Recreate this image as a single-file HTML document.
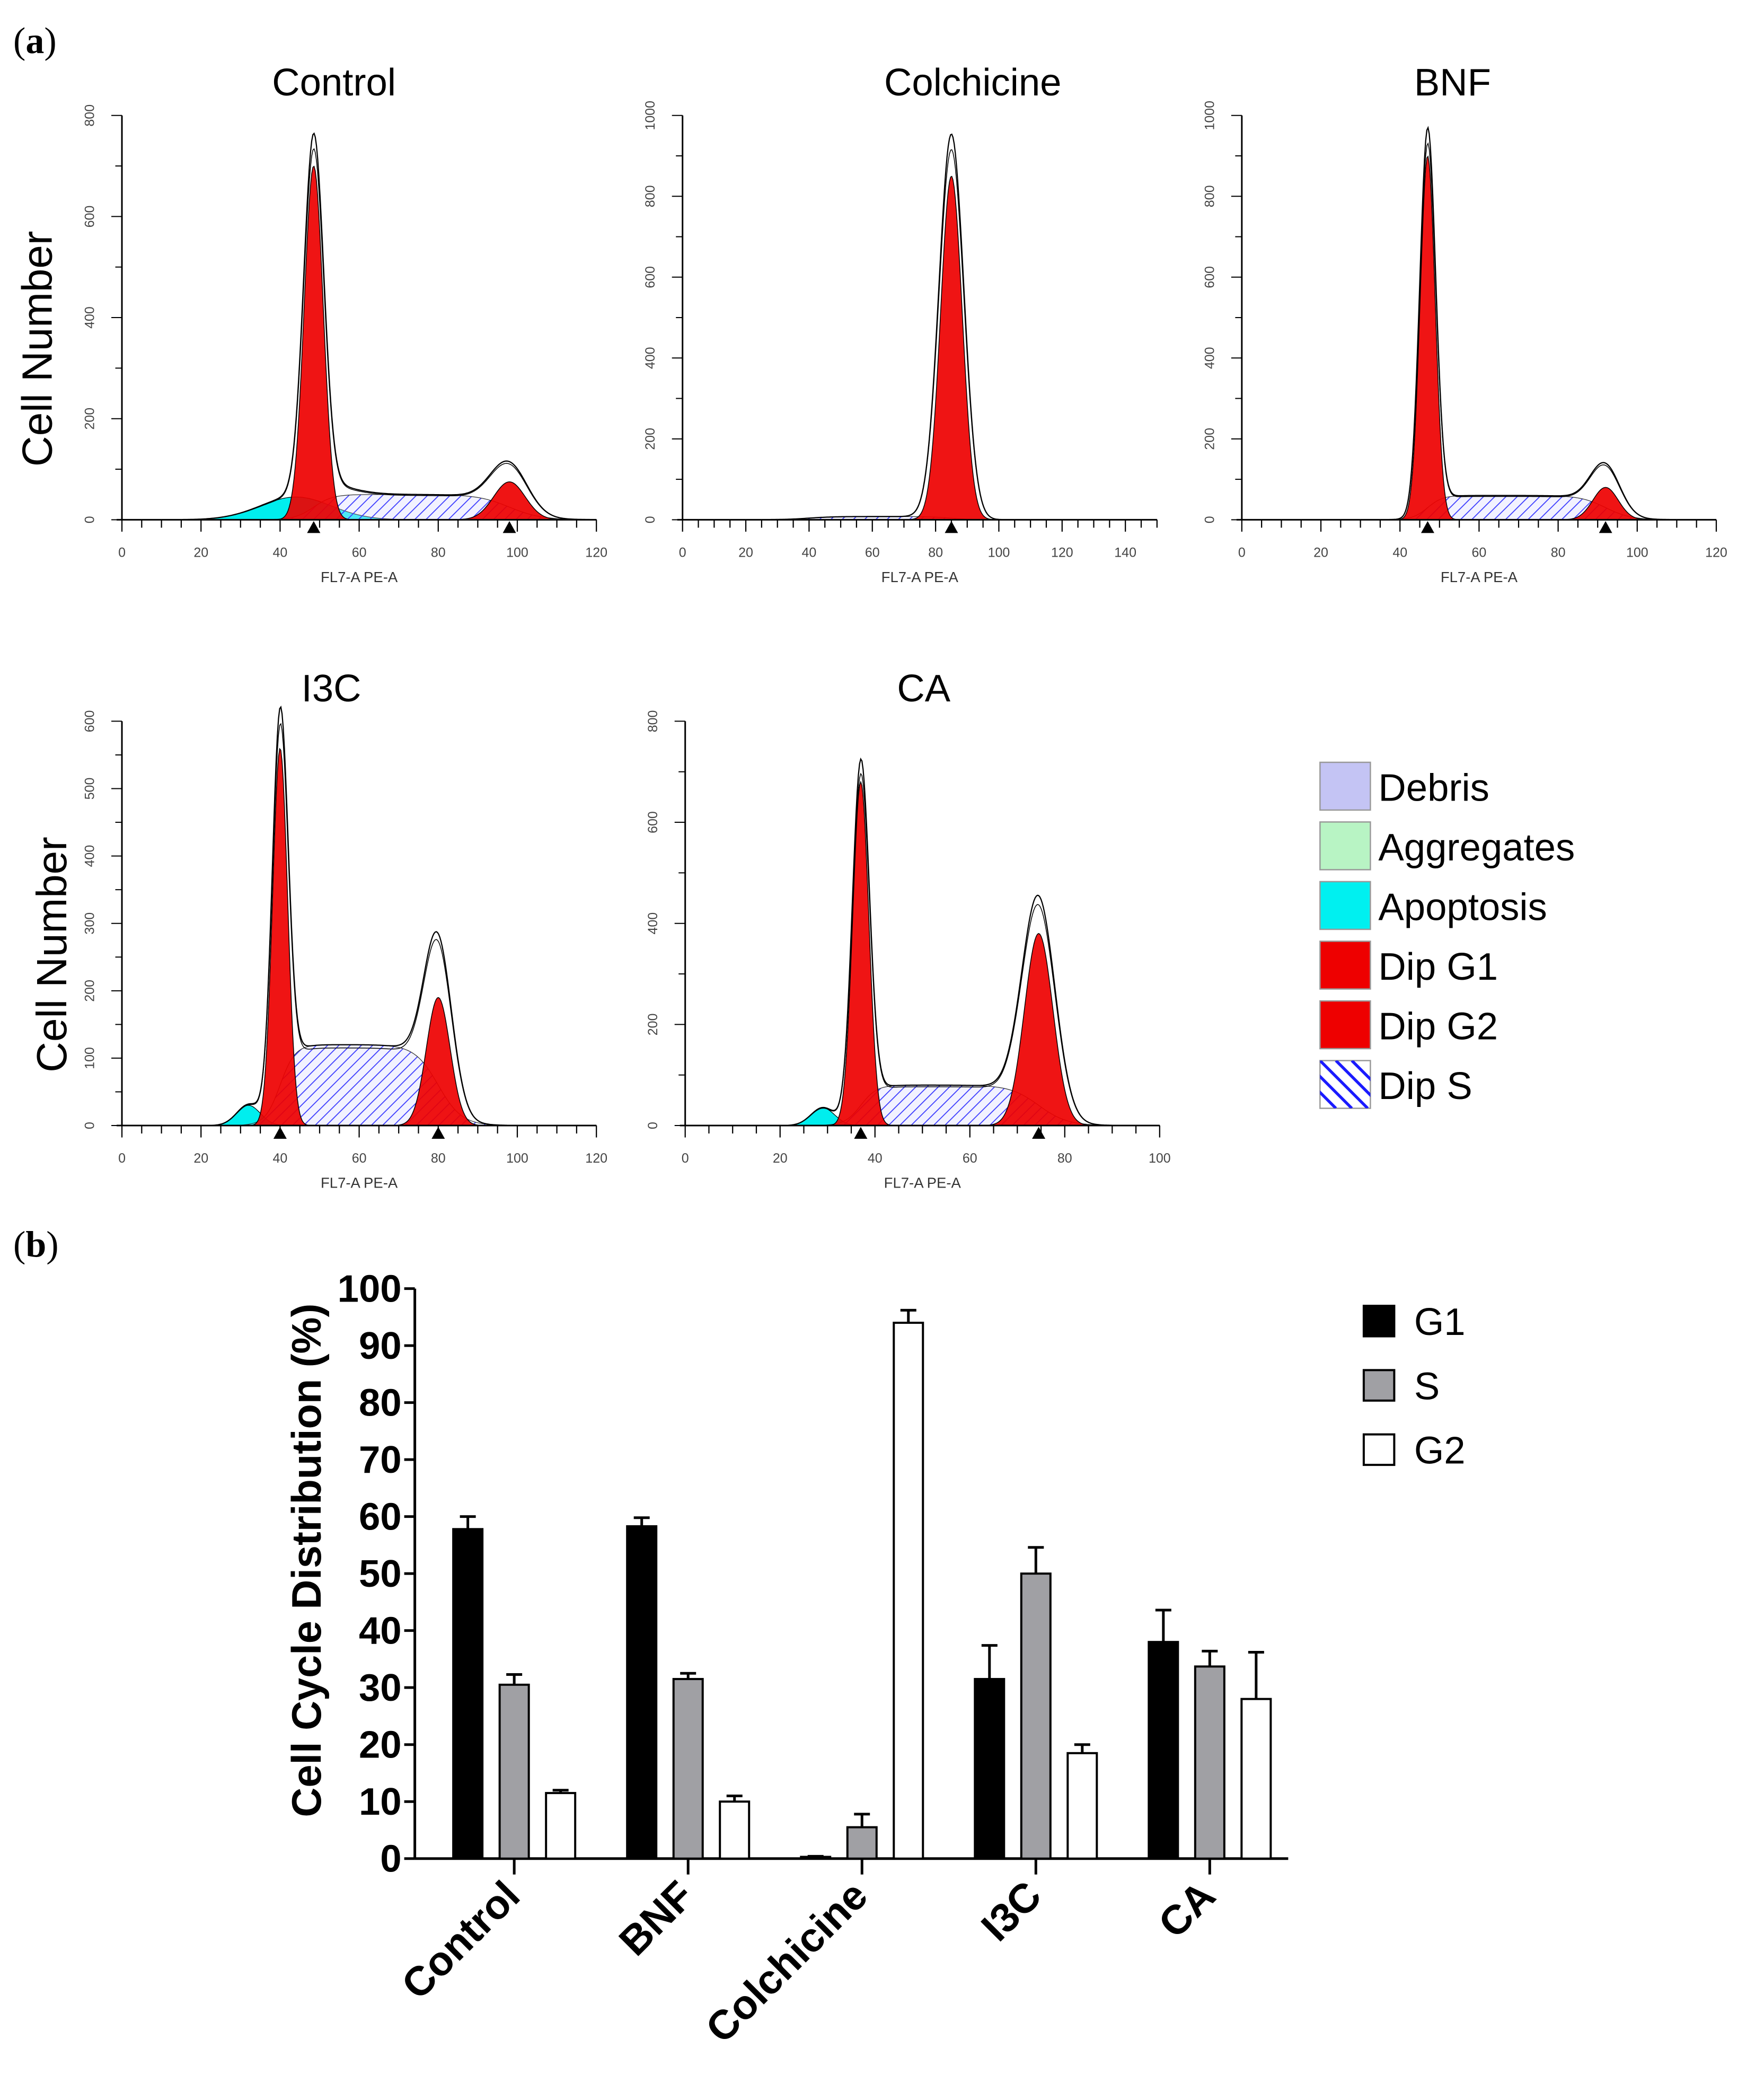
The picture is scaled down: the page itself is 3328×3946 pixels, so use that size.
<!DOCTYPE html>
<html><head><meta charset="utf-8"><style>
html,body{margin:0;padding:0;background:#fff}
svg{display:block}
text{font-family:"Liberation Sans",sans-serif}
</style></head><body>
<svg id="fig" xmlns="http://www.w3.org/2000/svg" width="3328" height="3946" viewBox="0 0 1331 1578">
<defs>
<pattern id="hatch" patternUnits="userSpaceOnUse" width="6" height="6" patternTransform="rotate(45)">
<rect width="6" height="6" fill="#d8d8ff" fill-opacity="0.35"/><line x1="0" y1="0" x2="0" y2="6" stroke="#3a3aff" stroke-width="1.4"/>
</pattern>
</defs>
<text x="10" y="40" font-size="28" style="font-family:'Liberation Serif',serif">(<tspan font-weight="bold">a</tspan>)</text>
<text x="10" y="948" font-size="28" style="font-family:'Liberation Serif',serif">(<tspan font-weight="bold">b</tspan>)</text>
<text transform="translate(39,263) rotate(-90)" text-anchor="middle" font-size="32">Cell Number</text>
<text transform="translate(50,720) rotate(-90)" text-anchor="middle" font-size="32">Cell Number</text>
<g id="hists"></g>
<g id="legendA"></g>
<g id="bars"></g>
</svg>
<script>
// ---- histogram panel data ----
const histTitles = ["Control","Colchicine","BNF","I3C","CA"];
const histXMax = [120,150,120,120,100];
const histYMax = [800,1000,1000,600,800];
const g1Mean = [48.5,40,47,40,37];
const g1Height = [700,0,900,560,680];
const g1Sd = [2.4,4,1.9,1.9,1.7];
const g2Mean = [98,85,92,80,74.5];
const g2Height = [75,850,80,190,380];
const g2Sd = [4,3.4,3.2,3,3];
const sLevel = [50,8,60,120,80];
const apoMean = [44,0,0,32,29];
const apoHeight = [45,0,0,30,35];
const apoSd = [9,1,1,3,2.5];
const outlineG1Extra = [0,0,40,0,5];
const outlineG2Extra = [15,100,30,35,35];
// panel frames (layout)
const frames = [
 {x0:92,x1:450,y0:392,y1:87,tx:252,ty:72},
 {x0:515,x1:873,y0:392,y1:87,tx:734,ty:72},
 {x0:937,x1:1295,y0:392,y1:87,tx:1096,ty:72},
 {x0:92,x1:450,y0:849,y1:544,tx:250,ty:529},
 {x0:517,x1:875,y0:849,y1:544,tx:697,ty:529}
];
const NS="http://www.w3.org/2000/svg";
function mk(tag,attrs,parent){const e=document.createElementNS(NS,tag);for(const k in attrs)e.setAttribute(k,attrs[k]);parent.appendChild(e);return e;}
function gauss(x,m,h,s){return h*Math.exp(-0.5*((x-m)/s)**2);}
function sig(x){return 1/(1+Math.exp(-x));}
const hists=document.getElementById('hists');
histTitles.forEach((t,i)=>{
  const f=frames[i];
  const g=mk('g',{},hists);
  
  
  const X=v=>f.x0+(f.x1-f.x0)*v/histXMax[i];
  const Y=v=>f.y0+(f.y1-f.y0)*v/histYMax[i];
  const xm=histXMax[i], N=400;
  const xs=[];for(let k=0;k<=N;k++)xs.push(xm*k/N);
  const sFn=x=>sLevel[i]*sig((x-g1Mean[i])/g1Sd[i])*sig((g2Mean[i]-x)/g2Sd[i]);
  const area=(fn)=>{let d='M'+X(0)+','+Y(0);xs.forEach(x=>{d+=' L'+X(x).toFixed(2)+','+Y(fn(x)).toFixed(2);});return d+' L'+X(xm)+','+Y(0)+'Z';};
  const line=(fn)=>{let d='';xs.forEach((x,k)=>{d+=(k?' L':'M')+X(x).toFixed(2)+','+Y(fn(x)).toFixed(2);});return d;};
  if(apoHeight[i]>0){
    const a=mk('path',{d:area(x=>gauss(x,apoMean[i],apoHeight[i],apoSd[i])),fill:'#00eeee',stroke:'#000','stroke-width':0.5},g);
    
    
  }
  const s=mk('path',{d:area(sFn),fill:'url(#hatch)',stroke:'#333','stroke-width':0.5},g);
  
  
  if(g1Height[i]>0){
    const p1=mk('path',{d:area(x=>gauss(x,g1Mean[i],g1Height[i],g1Sd[i])),fill:'#ee0000','fill-opacity':0.92,stroke:'#000','stroke-width':0.6},g);
    
    
  }
  const p2=mk('path',{d:area(x=>gauss(x,g2Mean[i],g2Height[i],g2Sd[i])),fill:'#ee0000','fill-opacity':0.92,stroke:'#000','stroke-width':0.6},g);
  
  
  const tot=x=>gauss(x,apoMean[i],apoHeight[i],apoSd[i])+sFn(x)+gauss(x,g1Mean[i],g1Height[i]+outlineG1Extra[i],g1Sd[i]*1.05)+gauss(x,g2Mean[i],g2Height[i]+outlineG2Extra[i],g2Sd[i]*1.15);
  const o=mk('path',{d:line(tot),fill:'none',stroke:'#000','stroke-width':0.9},g);
  
  
  const o2=mk('path',{d:line(x=>tot(x)*0.96),fill:'none',stroke:'#000','stroke-width':0.6},g);
  
  
  mk('line',{x1:f.x0-4,y1:f.y0,x2:f.x1,y2:f.y0,stroke:'#000','stroke-width':1.2},g);
  mk('line',{x1:f.x0,y1:f.y0,x2:f.x0,y2:f.y1,stroke:'#000','stroke-width':1.2},g);
  for(let v=0;v<=xm+0.01;v+=5){
    const major=v%20===0;
    mk('line',{x1:X(v),y1:f.y0,x2:X(v),y2:f.y0+(major?9:6),stroke:'#000','stroke-width':0.9},g);
    if(major){const tl=mk('text',{x:X(v),y:f.y0+28,'text-anchor':'middle','font-size':10,fill:'#444'},g);tl.textContent=v;}
  }
  for(let v=0;v<=histYMax[i];v+=(histYMax[i]===600?50:100)){
    const major=v%200===0||(histYMax[i]===600&&v%100===0);
    mk('line',{x1:f.x0,y1:Y(v),x2:f.x0-(major?8:5),y2:Y(v),stroke:'#000','stroke-width':0.8},g);
    if(major){const tl=mk('text',{transform:`translate(${f.x0-21},${Y(v)}) rotate(-90)`,'text-anchor':'middle','font-size':10,fill:'#444'},g);tl.textContent=v;}
  }
  [g1Mean[i],g2Mean[i]].forEach((m,k)=>{
    if(k===0&&g1Height[i]===0)return;
    const tr=mk('path',{d:`M${X(m)-5},${f.y0+10} L${X(m)+5},${f.y0+10} L${X(m)},${f.y0+1}Z`,fill:'#000'},g);
    
    
  });
  const ti=mk('text',{x:f.tx,y:f.ty,'text-anchor':'middle','font-size':29},g);ti.textContent=t;
  
  
  const xl=mk('text',{x:(f.x0+f.x1)/2,y:f.y0+47,'text-anchor':'middle','font-size':11,fill:'#333'},g);xl.textContent='FL7-A PE-A';
  
  
});
// legend A
const legNames=["Debris","Aggregates","Apoptosis","Dip G1","Dip G2","Dip S"];
const legFills=["#c4c4f4","#b8f4c4","#00f0f0","#ee0000","#ee0000","none"];
const la=document.getElementById('legendA');
legNames.forEach((n,k)=>{
  const y=575+k*45;
  const r=mk('rect',{x:996,y:y,width:38,height:36,fill:legFills[k],stroke:'#999','stroke-width':1},la);
  
  
  if(n==="Dip S"){for(let j=-2;j<=2;j++){mk('line',{x1:996+j*12,y1:y,x2:1032+j*12,y2:y+36,stroke:'#1a1aff','stroke-width':2.2},la);} }
  const t=mk('text',{x:1040,y:y+29,'font-size':29},la);t.textContent=n;
  
  
});
const cp=mk('clipPath',{id:'dipclip'},document.querySelector('defs'));mk('rect',{x:996,y:800,width:38,height:36},cp);
la.querySelectorAll('line').forEach(l=>l.setAttribute('clip-path','url(#dipclip)'));

// ---- bar chart data ----
const categories = ["Control","BNF","Colchicine","I3C","CA"];
const seriesNames = ["G1","S","G2"];
const g1Vals = [57.8,58.3,0.3,31.5,38];
const sVals = [30.5,31.5,5.5,50,33.7];
const g2Vals = [11.5,10,94,18.5,28];
const g1Err = [2.2,1.5,0.1,5.9,5.6];
const sErr = [1.8,1.0,2.3,4.6,2.7];
const g2Err = [0.5,1.0,2.2,1.5,8.2];
const yTicks = [0,10,20,30,40,50,60,70,80,90,100];
const barFills = ["#000000","#a0a0a4","#ffffff"];
const B=document.getElementById('bars');
const ax={x0:313,x1:972,y0:1402,y1:972};
const by=v=>ax.y0-(ax.y0-ax.y1)*v/100;
const bx=i=>388+i*131.2;
mk('line',{x1:ax.x0,y1:ax.y0,x2:ax.x1,y2:ax.y0,stroke:'#000','stroke-width':2},B);
mk('line',{x1:ax.x0,y1:ax.y0,x2:ax.x0,y2:ax.y1,stroke:'#000','stroke-width':2},B);
yTicks.forEach(v=>{
  mk('line',{x1:ax.x0-8,y1:by(v),x2:ax.x0,y2:by(v),stroke:'#000','stroke-width':2},B);
  const t=mk('text',{x:ax.x0-10,y:by(v)+10,'text-anchor':'end','font-size':29,'font-weight':'bold'},B);t.textContent=v;
  
  
});
const yt=mk('text',{transform:'translate(242,1177) rotate(-90)','text-anchor':'middle','font-size':31,'font-weight':'bold'},B);yt.textContent='Cell Cycle Distribution (%)';


const allVals=[g1Vals,sVals,g2Vals], allErr=[g1Err,sErr,g2Err];
categories.forEach((c,i)=>{
  const cx=bx(i);
  mk('line',{x1:cx,y1:ax.y0,x2:cx,y2:ax.y0+12,stroke:'#000','stroke-width':2},B);
  const t=mk('text',{transform:`translate(${cx+6},${ax.y0+30}) rotate(-45)`,'text-anchor':'end','font-size':31,'font-weight':'bold'},B);t.textContent=c;
  
  
  allVals.forEach((arr,s)=>{
    const bxc=cx+(s-1)*35;
    const v=arr[i], e=arr[i]+allErr[s][i];
    mk('line',{x1:bxc,y1:by(v),x2:bxc,y2:by(e),stroke:'#000','stroke-width':2},B);
    mk('line',{x1:bxc-6,y1:by(e),x2:bxc+6,y2:by(e),stroke:'#000','stroke-width':2},B);
    const r=mk('rect',{x:bxc-11,y:by(v),width:22,height:by(0)-by(v),fill:barFills[s],stroke:'#000','stroke-width':1.6},B);
    
    
  });
});
seriesNames.forEach((n,s)=>{
  const y=985+s*48.5;
  const r=mk('rect',{x:1029,y:y,width:23,height:23,fill:barFills[s],stroke:'#000','stroke-width':1.6},B);
  
  
  const t=mk('text',{x:1067,y:y+22,'font-size':29},B);t.textContent=n;
  
  
});
</script>
</body></html>
